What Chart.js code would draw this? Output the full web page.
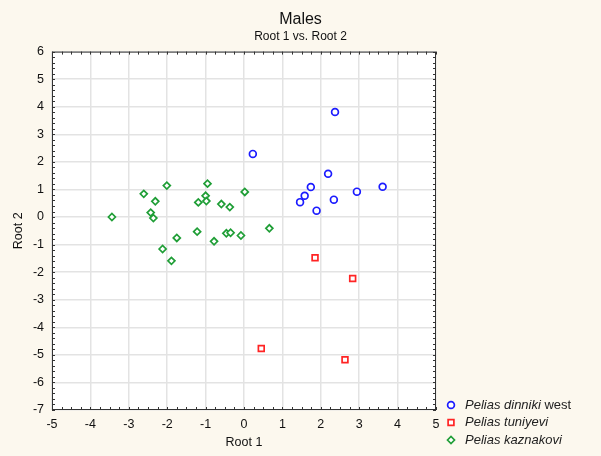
<!DOCTYPE html>
<html>
<head>
<meta charset="UTF-8">
<title>Males - Root 1 vs. Root 2</title>
<script src="https://cdn.jsdelivr.net/npm/chart.js"></script>
<style>
  html, body { margin: 0; padding: 0; background: #fcf8ee; overflow: hidden; }
  #grafico { display: block; }
</style>
</head>
<body>
<canvas id="grafico" width="601" height="456"></canvas>
<script>
  // dados (Root 1, Root 2)
  const dinnikiX = [0.23, 2.37, 2.19, 1.74, 1.58, 1.46, 1.89, 2.34, 2.94, 3.61];
  const dinnikiY = [2.29, 3.81, 1.57, 1.09, 0.77, 0.54, 0.23, 0.63, 0.92, 1.10];

  const tuniyeviX = [1.85, 2.83, 0.45, 2.63];
  const tuniyeviY = [-1.48, -2.23, -4.77, -5.18];

  const kaznakoviX = [-3.44, -2.61, -2.31, -2.43, -2.36, -2.01, -2.12, -1.89, -1.75, -1.19, -1.22,
                      -1.00, -0.98, -0.95, -0.78, -0.59, -0.37, -0.46, -0.35, -0.08, 0.02, 0.66];
  const kaznakoviY = [0.00, 0.84, 0.57, 0.16, -0.04, 1.14, -1.16, -1.59, -0.76, 0.53, -0.53,
                      0.77, 0.58, 1.21, -0.88, 0.47, 0.36, -0.59, -0.57, -0.67, 0.91, -0.41];

  const nomes = ['Pelias dinniki', 'Pelias tuniyevi', 'Pelias kaznakovi'];
  const sufixos = [' west', '', ''];
  const cores = ['#1c1cff', '#ff2424', '#1f9e36'];
  const formas = ['circle', 'rect', 'rectRot'];
  const raios = [3.4, 4.1, 3.5];

  const fonte = 'Liberation Sans, Arial, sans-serif';

  function pontos(xs, ys) {
    return xs.map((x, i) => ({ x: x, y: ys[i] }));
  }

  // fundo creme + área branca + moldura com marcas menores
  const moldura = {
    id: 'moldura',
    beforeDraw(chart) {
      const { ctx, chartArea: a } = chart;
      ctx.save();
      ctx.fillStyle = '#fcf8ee';
      ctx.fillRect(0, 0, chart.width, chart.height);
      ctx.fillStyle = '#ffffff';
      ctx.fillRect(a.left, a.top, a.right - a.left, a.bottom - a.top);
      ctx.restore();
    },
    afterDatasetsDraw(chart) {
      const { ctx, chartArea: a, scales } = chart;
      ctx.save();
      ctx.strokeStyle = '#333333';
      ctx.lineWidth = 1;
      ctx.strokeRect(a.left + 0.5, a.top + 0.5, a.right - a.left - 1, a.bottom - a.top - 1);
      ctx.beginPath();
      for (let v = -5; v <= 5.001; v += 0.25) {
        const px = Math.round(scales.x.getPixelForValue(v)) + 0.5;
        ctx.moveTo(px, a.bottom); ctx.lineTo(px, a.bottom - 3);
        ctx.moveTo(px, a.top); ctx.lineTo(px, a.top + 3);
      }
      for (let v = -7; v <= 6.001; v += 0.2) {
        const py = Math.round(scales.y.getPixelForValue(v)) + 0.5;
        ctx.moveTo(a.left, py); ctx.lineTo(a.left + 3, py);
        ctx.moveTo(a.right, py); ctx.lineTo(a.right - 3, py);
      }
      ctx.stroke();
      ctx.restore();
    },
    afterDraw(chart) {
      // legenda (itálico + normal)
      const ctx = chart.ctx;
      ctx.save();
      const x0 = 451, y0 = 405, passo = 17.5;
      chart.data.datasets.forEach((ds, i) => {
        const y = y0 + i * passo;
        ctx.strokeStyle = cores[i];
        ctx.fillStyle = '#ffffff';
        ctx.lineWidth = 1.7;
        Chart.helpers.drawPoint(ctx, { pointStyle: formas[i], radius: raios[i], borderWidth: 1.7 }, x0, y);
        ctx.fillStyle = '#222222';
        ctx.textBaseline = 'middle';
        ctx.font = 'italic 13px ' + fonte;
        ctx.fillText(nomes[i], x0 + 14, y);
        const w = ctx.measureText(nomes[i]).width;
        ctx.font = '13px ' + fonte;
        ctx.fillText(sufixos[i], x0 + 14 + w, y);
      });
      ctx.restore();
    }
  };

  const ctx = document.getElementById('grafico').getContext('2d');
  new Chart(ctx, {
    type: 'scatter',
    data: {
      datasets: [
        { label: nomes[0] + sufixos[0], data: pontos(dinnikiX, dinnikiY) },
        { label: nomes[1], data: pontos(tuniyeviX, tuniyeviY) },
        { label: nomes[2], data: pontos(kaznakoviX, kaznakoviY) }
      ].map((ds, i) => Object.assign(ds, {
        pointStyle: formas[i],
        borderColor: cores[i],
        backgroundColor: '#ffffff',
        pointRadius: raios[i],
        pointBorderWidth: 1.7
      }))
    },
    options: {
      responsive: false,
      animation: false,
      devicePixelRatio: 1,
      layout: { padding: 0 },
      plugins: {
        legend: { display: false },
        tooltip: { enabled: false },
        title: {
          display: true,
          text: 'Males',
          color: '#111111',
          font: { family: fonte, size: 16, weight: 'normal' },
          padding: { top: 10, bottom: 0 }
        },
        subtitle: {
          display: true,
          text: 'Root 1 vs. Root 2',
          color: '#111111',
          font: { family: fonte, size: 12, weight: 'normal' },
          padding: { top: 0, bottom: 8 }
        }
      },
      scales: {
        x: {
          type: 'linear',
          min: -5, max: 5,
          ticks: { stepSize: 1, maxRotation: 0, autoSkip: false, color: '#111111', padding: 7, font: { family: fonte, size: 12.5 } },
          grid: { color: '#e3e3e3', lineWidth: 1.5, drawTicks: false },
          border: { display: false },
          title: { display: true, text: 'Root 1', color: '#111111', font: { family: fonte, size: 12.5 }, padding: { top: 0, bottom: 6 } },
          afterFit(scale) { scale.height = 46; }
        },
        y: {
          type: 'linear',
          min: -7, max: 6,
          ticks: { stepSize: 1, autoSkip: false, color: '#111111', padding: 8, font: { family: fonte, size: 12.5 } },
          grid: { color: '#e3e3e3', lineWidth: 1.5, drawTicks: false },
          border: { display: false },
          title: { display: true, text: 'Root 2', color: '#111111', font: { family: fonte, size: 12.5 }, padding: { top: 11, bottom: 0 } },
          afterFit(scale) { scale.width = 52; }
        },
        // eixo vazio à direita só para reservar o espaço da legenda
        margem: {
          type: 'linear',
          position: 'right',
          min: 0, max: 1,
          ticks: { display: false },
          grid: { display: false },
          border: { display: false },
          afterFit(scale) { scale.width = 165; }
        }
      }
    },
    plugins: [moldura]
  });
</script>
</body>
</html>
